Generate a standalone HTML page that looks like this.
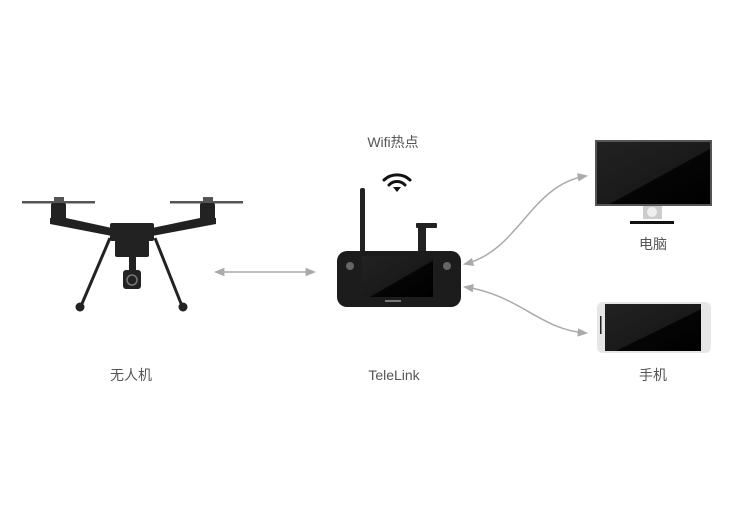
<!DOCTYPE html>
<html><head><meta charset="utf-8"><style>
html,body{margin:0;padding:0;background:#fff}
svg{display:block}
text{font-family:"Liberation Sans","Noto Sans CJK SC",sans-serif;fill:#555;font-size:14px}
</style></head><body>
<svg width="750" height="512" viewBox="0 0 750 512" xmlns="http://www.w3.org/2000/svg">
<defs>
<marker id="ah" viewBox="0 0 10 10" refX="8" refY="5" markerWidth="7" markerHeight="7" orient="auto-start-reverse">
<path d="M0,1 L10,5 L0,9 z" fill="#aaa"/></marker>
<linearGradient id="scr" x1="0" y1="0" x2="1" y2="1"><stop offset="0" stop-color="#222"/><stop offset="0.55" stop-color="#1a1a1a"/><stop offset="0.56" stop-color="#050505"/><stop offset="1" stop-color="#000"/></linearGradient>
</defs>
<!-- drone -->
<g fill="#222">
<rect x="22" y="201" width="73" height="2.5" fill="#555"/>
<rect x="170" y="201" width="73" height="2.5" fill="#555"/>
<rect x="54" y="197" width="10" height="5" fill="#555"/>
<rect x="203" y="197" width="10" height="5" fill="#555"/>
<rect x="51" y="203" width="15" height="18" rx="2"/>
<rect x="200" y="203" width="15" height="18" rx="2"/>
<polygon points="50,218 66,218 112,228 112,236 50,224"/>
<polygon points="216,218 200,218 152,228 152,236 216,224"/>
<rect x="110" y="223" width="44" height="18" rx="2"/>
<rect x="115" y="240" width="34" height="17" rx="2"/>
<rect x="129" y="257" width="7" height="13"/>
<rect x="123" y="270" width="18" height="19" rx="3"/>
<circle cx="132" cy="280" r="5" fill="none" stroke="#777" stroke-width="1.5"/>
<line x1="110" y1="238" x2="81" y2="306" stroke="#222" stroke-width="3"/>
<line x1="155" y1="238" x2="182" y2="306" stroke="#222" stroke-width="3"/>
<circle cx="80" cy="307" r="4.5"/>
<circle cx="183" cy="307" r="4.5"/>
</g>
<line x1="216" y1="272" x2="314" y2="272" stroke="#aaa" stroke-width="1.5" marker-start="url(#ah)" marker-end="url(#ah)"/>
<!-- controller -->
<text x="393" y="147" text-anchor="middle" font-size="13">Wifi热点</text>
<g fill="none" stroke="#111" stroke-width="3" stroke-linecap="round">
<path d="M384,180 A19,19 0 0 1 410,180"/>
<path d="M389,185 A11,11 0 0 1 405,185"/>
</g>
<path d="M393,187 L401,187 L397,192 z" fill="#111"/>
<rect x="360" y="188" width="5" height="65" rx="2" fill="#222"/>
<rect x="418" y="228" width="8" height="25" fill="#222"/>
<rect x="416" y="223" width="21" height="5" rx="1" fill="#222"/>
<rect x="337" y="251" width="124" height="56" rx="10" fill="#1c1c1c"/>
<rect x="362" y="256" width="71" height="41" fill="url(#scr)"/>
<circle cx="350" cy="266" r="4" fill="#666"/>
<circle cx="447" cy="266" r="4" fill="#666"/>
<rect x="385" y="300" width="16" height="2" fill="#777"/>
<line x1="465" y1="262" x2="586" y2="175" stroke="none"/>
<path d="M465,264 C520,250 530,185 586,176" fill="none" stroke="#aaa" stroke-width="1.5" marker-start="url(#ah)" marker-end="url(#ah)"/>
<path d="M465,287 C520,295 540,330 586,333" fill="none" stroke="#aaa" stroke-width="1.5" marker-start="url(#ah)" marker-end="url(#ah)"/>
<!-- monitor -->
<rect x="595" y="140" width="117" height="66" fill="#555"/>
<rect x="597" y="142" width="113" height="62" fill="url(#scr)"/>
<rect x="643" y="206" width="19" height="13" fill="#ccc"/>
<circle cx="652" cy="212" r="5" fill="#eee"/>
<rect x="630" y="221" width="44" height="3" fill="#111"/>
<text x="653" y="249" text-anchor="middle">电脑</text>
<!-- phone -->
<rect x="597" y="302" width="114" height="51" rx="6" fill="#e6e6e6"/>
<rect x="605" y="304" width="96" height="47" fill="url(#scr)"/>
<rect x="600" y="316" width="1.5" height="18" fill="#222"/>
<text x="653" y="380" text-anchor="middle">手机</text>
<text x="131" y="380" text-anchor="middle">无人机</text>
<text x="394" y="380" text-anchor="middle">TeleLink</text>
</svg>
</body></html>
